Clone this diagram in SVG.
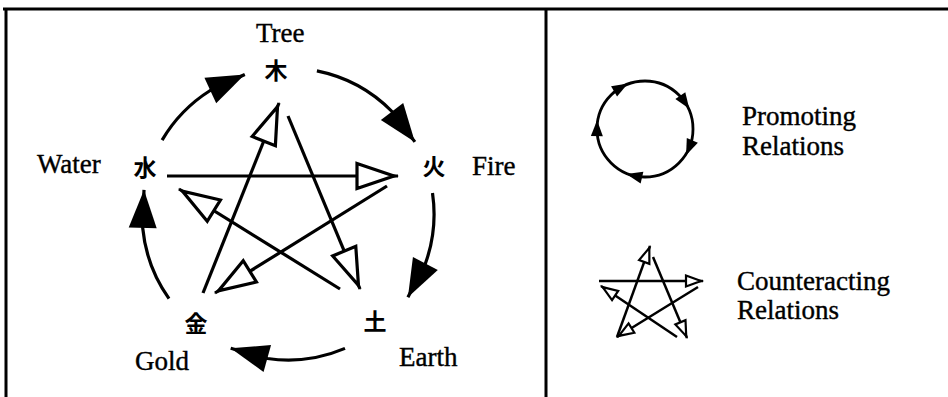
<svg xmlns="http://www.w3.org/2000/svg" xmlns:xlink="http://www.w3.org/1999/xlink" width="948" height="397" viewBox="0 0 948 397">
<style>
.lbl{font-family:"Liberation Serif","Times New Roman",serif;font-size:27px;fill:#000;stroke:#000;stroke-width:0.4}
.cjk{font-family:"Noto Sans CJK JP","Noto Sans CJK SC",sans-serif;font-size:23px;font-weight:bold;fill:#000;text-anchor:middle}
.frame{fill:none;stroke:#000;stroke-width:3}
.prom{fill:none;stroke:#000;stroke-width:3.2;marker-end:url(#solid)}
.coun{fill:none;stroke:#000;stroke-width:3.2;marker-end:url(#hollow)}
.scoun{fill:none;stroke:#000;stroke-width:2.5;marker-end:url(#shollow)}
</style>
<defs>
<marker id="solid" markerUnits="userSpaceOnUse" viewBox="0 0 38 28" markerWidth="38" markerHeight="28" refX="38" refY="14" orient="auto" overflow="visible">
<path d="M0,0 L38,14 L0,28 Z" fill="#000"/>
</marker>
<marker id="hollow" markerUnits="userSpaceOnUse" viewBox="-3 -3 46 31" markerWidth="46" markerHeight="31" refX="41" refY="12.5" orient="auto" overflow="visible">
<path d="M0,0 L37,12.5 L0,25 Z" fill="#fff" stroke="#000" stroke-width="3.2"/>
</marker>
<marker id="shollow" markerUnits="userSpaceOnUse" viewBox="-3 -3 23 17" markerWidth="23" markerHeight="17" refX="17" refY="5.5" orient="auto" overflow="visible">
<path d="M0,0 L15,5.5 L0,11 Z" fill="#fff" stroke="#000" stroke-width="2.2"/>
</marker>
<path id="sh" d="M-8,-6 L8,0 L-8,6 Z" fill="#000"/>
</defs>

<g id="frame">
<path class="frame" d="M3,9 H948 M6,9 V397 M546,9 V397"/>
</g>

<g id="connectors">
<g id="promoting">
<path class="prom" d="M162.1,140.1 A146,146 0 0 1 210.2,90.5 L244.8,74.5"/>
<path class="prom" d="M316.9,70.9 A146,146 0 0 1 392.0,111.5 L414.9,141.9"/>
<path class="prom" d="M432.5,192.9 A146,146 0 0 1 425.4,263.5 L407.9,297.3"/>
<path class="prom" d="M345.0,348.4 A146,146 0 0 1 267.4,358.5 L230.7,348.3"/>
<path class="prom" d="M169.0,298.6 A146,146 0 0 1 142.7,228.0 L144.0,189.9"/>
</g>
<g id="counteracting">
<path class="coun" d="M167,176 L398,176"/>
<path class="coun" d="M387,186 L215,293"/>
<path class="coun" d="M203,293 L279,103"/>
<path class="coun" d="M288,116 L360,289"/>
<path class="coun" d="M340,289 L179,189"/>
</g>
</g>

<g id="tree"><text class="lbl" x="256" y="42">Tree</text><text class="cjk" x="276" y="79">木</text></g>
<g id="fire"><text class="cjk" x="434" y="175">火</text><text class="lbl" x="472" y="175">Fire</text></g>
<g id="earth"><text class="cjk" x="375" y="330">土</text><text class="lbl" x="399" y="366">Earth</text></g>
<g id="gold"><text class="cjk" x="196" y="332">金</text><text class="lbl" x="135" y="370">Gold</text></g>
<g id="water"><text class="lbl" x="37" y="173">Water</text><text class="cjk" x="145" y="176">水</text></g>

<g id="legend-promoting">
<circle cx="645" cy="129" r="48" fill="none" stroke="#000" stroke-width="2.8"/>
<use xlink:href="#sh" transform="translate(621,87.4) rotate(-30)"/>
<use xlink:href="#sh" transform="translate(684.8,102.2) rotate(56)"/>
<use xlink:href="#sh" transform="translate(689.2,147.8) rotate(113)"/>
<use xlink:href="#sh" transform="translate(634.2,175.8) rotate(193)"/>
<use xlink:href="#sh" transform="translate(597,128.2) rotate(271)"/>
<text class="lbl" x="742" y="125">Promoting</text>
<text class="lbl" x="742" y="155">Relations</text>
</g>

<g id="legend-counteracting">
<path class="scoun" d="M599,281 L703,281"/>
<path class="scoun" d="M698,287 L617,337"/>
<path class="scoun" d="M617,337 L650,246"/>
<path class="scoun" d="M653,257 L687,338"/>
<path class="scoun" d="M677,337 L601,286"/>
<text class="lbl" x="737" y="290">Counteracting</text>
<text class="lbl" x="737" y="319">Relations</text>
</g>
</svg>
